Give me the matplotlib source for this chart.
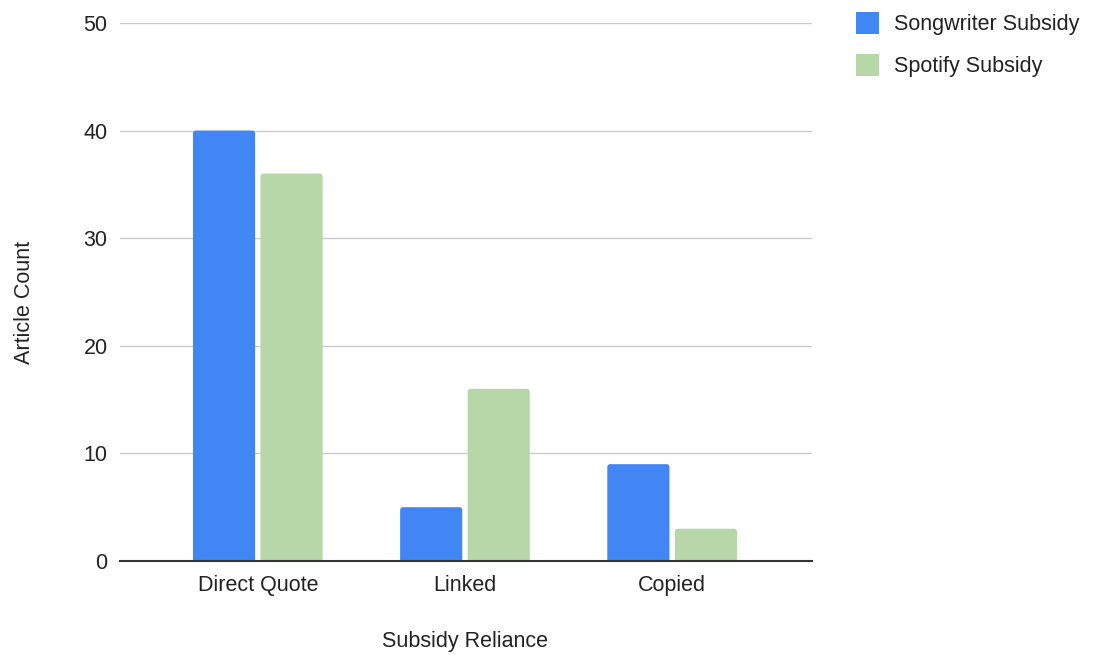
import matplotlib
matplotlib.use("Agg")
import matplotlib.pyplot as plt
from matplotlib.patches import FancyBboxPatch, Patch

plt.rcParams['font.family'] = ['Liberation Sans', 'DejaVu Sans']

categories = ["Direct Quote", "Linked", "Copied"]
series_names = ["Songwriter Subsidy", "Spotify Subsidy"]
songwriter = [40, 5, 9]
spotify = [36, 16, 3]
y_ticks = [0, 10, 20, 30, 40, 50]

colors = ["#4285F4", "#B7D7A8"]
text_color = "#222222"
fs = 15.5

fig = plt.figure(figsize=(11.01, 6.55), dpi=100)
ax = fig.add_axes([0.109, 0.1435, 0.6285, 0.8215])

width = 0.30
offset = 0.163
xs = range(len(categories))

def rounded_bars(values, shift, color):
    bars = ax.bar([x + shift for x in xs], values, width, color=color)
    for rect in bars:
        rect.set_visible(False)
        x0, w, h = rect.get_x(), rect.get_width(), rect.get_height()
        patch = FancyBboxPatch((x0, -2), w, h + 2,
                               boxstyle="round,pad=0,rounding_size=0.014",
                               mutation_aspect=19.2,
                               facecolor=color, edgecolor="none",
                               clip_on=True, zorder=2)
        ax.add_patch(patch)

rounded_bars(songwriter, -offset, colors[0])
rounded_bars(spotify, offset, colors[1])

ax.set_xlim(-0.665, 2.675)
ax.set_ylim(0, 50)
ax.set_yticks(y_ticks)
ax.set_xticks(list(xs))
ax.set_xticklabels(categories)
ax.tick_params(axis='both', length=0, labelsize=fs, colors=text_color)
ax.tick_params(axis='y', pad=9)
ax.tick_params(axis='x', pad=10)

ax.grid(axis='y', color="#cccccc", linewidth=1)
ax.set_axisbelow(True)
for s in ["top", "right", "left"]:
    ax.spines[s].set_visible(False)
ax.spines["bottom"].set_color("#333333")
ax.spines["bottom"].set_linewidth(1.5)
ax.spines["bottom"].set_zorder(3)

ax.set_xlabel("Subsidy Reliance", fontsize=fs, color=text_color, va="center")
ax.xaxis.set_label_coords(0.4986, -0.1487)
ax.set_ylabel("Article Count", fontsize=fs, color=text_color, va="center")
ax.yaxis.set_label_coords(-0.138, 0.481)

handles = [Patch(facecolor=c, edgecolor="none") for c in colors]
fig.legend(handles, series_names, loc="upper left",
           bbox_to_anchor=(856 / 1101, 1 - 12 / 655),
           frameon=False, fontsize=fs, handlelength=1.07, handleheight=1.2,
           labelspacing=0.85, handletextpad=0.7, borderpad=0, borderaxespad=0,
           labelcolor=text_color)

fig.savefig("out.png", dpi=100)
